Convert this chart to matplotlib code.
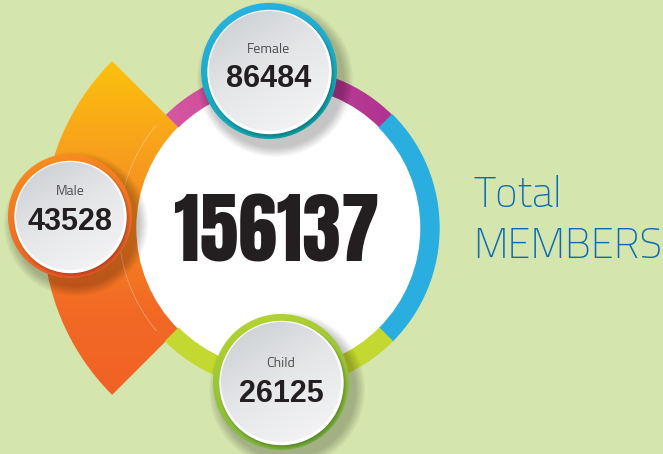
import numpy as np
import matplotlib
matplotlib.use("Agg")
import matplotlib.pyplot as plt
from matplotlib.patches import Circle, Wedge, Arc
from matplotlib.colors import LinearSegmentedColormap

# data
labels = ["Female", "Male", "Child"]
values = [86484, 43528, 26125]
total = 156137
title_lines = ["Total", "MEMBERS"]

bg = "#D4E5AD"
ink = "#231F20"
big_font = ["Anton", "DejaVu Sans"]
num_font = ["Liberation Sans", "DejaVu Sans"]
txt_font = ["Titillium Web", "DejaVu Sans"]

fig = plt.figure(figsize=(6.63, 4.54), dpi=100)
fig.patch.set_facecolor(bg)
ax = fig.add_axes([0, 0, 1, 1])
ax.set_xlim(0, 663)
ax.set_ylim(454, 0)
ax.set_aspect("equal")
ax.axis("off")


def grad_fill(patch, stops, box, direction=(0, 1), z=1):
    # gradient image clipped to a patch
    patch.set_facecolor("none")
    patch.set_edgecolor("none")
    patch.set_zorder(z)
    ax.add_patch(patch)
    x0, x1, y0, y1 = box
    X, Y = np.meshgrid(np.linspace(x0, x1, 200), np.linspace(y0, y1, 200))
    dx, dy = direction
    t = (X - x0) * dx + (Y - y0) * dy
    t = (t - t.min()) / (t.max() - t.min())
    cmap = LinearSegmentedColormap.from_list("g", stops)
    im = ax.imshow(cmap(t), extent=(x0, x1, y1, y0), origin="upper",
                   interpolation="bilinear", zorder=z)
    im.set_clip_path(patch)
    return im


cx, cy = 279, 228
r_white = 142
r_ring = 160

# orange fan on the left
fan = Wedge((cx, cy), 236, 135, 225, width=236 - r_white + 1)
grad_fill(fan, ["#FFDC00", "#F8A11C", "#F26A25", "#F15A27"],
          (cx - 240, cx, cy - 240, cy + 240), (0, 1), z=1)
ax.add_patch(Arc((cx, cy), 2 * r_ring, 2 * r_ring, theta1=140, theta2=220,
                 color="white", alpha=0.35, lw=0.6, zorder=2))

# white centre disc and coloured ring (y axis is flipped, so angles are mirrored)
ax.add_patch(Circle((cx, cy), r_white, color="white", zorder=2))
pink = Wedge((cx, cy), r_ring, -135, -45, width=r_ring - r_white)
grad_fill(pink, ["#E15FA5", "#A52A8C"], (cx - 170, cx + 170, cy - 170, cy), (1, 0), z=2)
ax.add_patch(Wedge((cx, cy), r_ring, -45, 45, width=r_ring - r_white,
                   color="#2AADDF", zorder=2))
ax.add_patch(Wedge((cx, cy), r_ring, 45, 135, width=r_ring - r_white,
                   color="#C3D830", zorder=2))

# badges
badge_pos = [(269, 71), (70, 216), (281, 382)]
badge_r = [(68, 60), (62, 54), (68, 60)]
badge_cols = [["#2BB3E6", "#0BA3A3"], ["#F7941E", "#E9512A"], ["#BAD632", "#70AE3F"]]
label_base = [53, 195, 367]
num_base = [87, 230, 402]

for (bx, by), (ro, ri), cols, lab, val, lb, nb in zip(
        badge_pos, badge_r, badge_cols, labels, values, label_base, num_base):
    # soft drop shadow
    for k in range(10):
        ax.add_patch(Circle((bx + 6, by + 8), ro + 10 - k, color="black",
                            alpha=0.025, lw=0, zorder=3))
    ring = Circle((bx, by), ro)
    grad_fill(ring, cols, (bx - ro, bx + ro, by - ro, by + ro), (0.3, 1), z=4)
    # shadow of the face on the ring
    for k in range(4):
        ax.add_patch(Circle((bx + 2, by + 3), ri + 4 - k, color="black",
                            alpha=0.06, lw=0, zorder=4.5))
    ax.add_patch(Circle((bx + 0.5, by + 1), ri + 1.5, color="white", zorder=5))
    face = Circle((bx, by), ri)
    grad_fill(face, ["#C9CDD1", "#E6E7E9", "#F6F6F7"],
              (bx - ri, bx + ri, by - ri, by + ri), (0.6, 1), z=6)
    ax.text(bx, lb, lab, ha="center", va="baseline", fontsize=10,
            color="#4D4D4F", family=txt_font, zorder=7)
    ax.text(bx, nb, str(val), ha="center", va="baseline", fontsize=22,
            color=ink, family=num_font, fontweight="bold", zorder=7)

# total in the middle
ax.text(277, 262, str(total), ha="center", va="baseline", fontsize=56,
        color=ink, family=big_font, zorder=7)

# title on the right
ax.text(473, 207, title_lines[0], ha="left", va="baseline", fontsize=30.5,
        color="#0B6AB5", family=txt_font, fontweight="light")
ax.text(473, 258, title_lines[1], ha="left", va="baseline", fontsize=30,
        color="#0B6AB5", family=txt_font, fontweight="light")

fig.savefig("out.png", dpi=100, facecolor=bg)
